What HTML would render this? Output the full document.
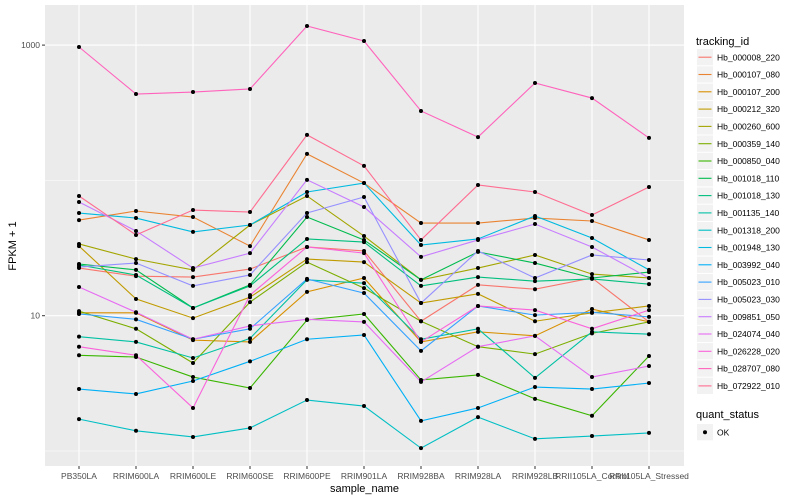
<!DOCTYPE html>
<html><head><meta charset="utf-8"><style>
body{margin:0;background:#fff;}
svg{display:block;font-family:"Liberation Sans",sans-serif;}
</style></head><body>
<svg id="chart" width="800" height="500" viewBox="0 0 800 500">
<rect x="45" y="5" width="639" height="461" fill="#ebebeb"/>
<g id="grid"></g><g id="series"></g><g id="axes"></g><g id="legend"></g>
</svg>
<script>
const categories=["PB350LA","RRIM600LA","RRIM600LE","RRIM600SE","RRIM600PE","RRIM901LA","RRIM928BA","RRIM928LA","RRIM928LB","RRII105LA_Control","RRII105LA_Stressed"];
const seriesNames=["Hb_000008_220","Hb_000107_080","Hb_000107_200","Hb_000212_320","Hb_000260_600","Hb_000359_140","Hb_000850_040","Hb_001018_110","Hb_001018_130","Hb_001135_140","Hb_001318_200","Hb_001948_130","Hb_003992_040","Hb_005023_010","Hb_005023_030","Hb_009851_050","Hb_024074_040","Hb_026228_020","Hb_028707_080","Hb_072922_010"];
const s000008_220=[22.5,19.6,19.3,22.1,32.2,30.1,9.1,16.9,15.7,19.0,9.0];
const s000107_080=[50.9,59.4,53.6,32.7,157,95.6,48.4,48.4,52.7,50.1,36.3];
const s000107_200=[10.5,10.5,6.6,6.4,15.0,19.0,6.4,7.6,7.1,11.2,9.0];
const s000212_320=[32.7,13.3,9.6,13.7,26.2,24.9,12.4,14.5,9.1,10.5,11.8];
const s000260_600=[33.9,26.2,21.8,46.8,76.7,38.8,18.4,22.5,28.1,20.3,19.0];
const s000359_140=[10.8,8.0,4.47,12.6,24.9,16.0,9.1,5.9,5.2,7.4,9.0];
const s000850_040=[5.1,4.95,3.52,2.92,9.3,10.3,3.35,3.65,2.43,1.82,5.04];
const s001018_110=[24.1,21.8,11.4,16.9,53.6,36.3,18.4,29.6,24.5,19.0,21.0];
const s001018_130=[23.7,20.0,11.4,16.6,36.9,35.0,16.6,19.3,18.0,18.7,17.1];
const s001135_140=[7.0,6.4,4.87,6.8,18.4,17.4,6.7,8.0,3.47,7.6,7.3];
const s001318_200=[1.72,1.41,1.27,1.48,2.38,2.15,1.05,1.78,1.23,1.29,1.36];
const s001948_130=[57.4,52.7,41.6,46.8,82.1,95.6,33.3,36.9,54.6,37.5,21.8];
const s003992_040=[2.87,2.64,3.29,4.6,6.7,7.2,1.67,2.08,2.97,2.87,3.18];
const s005023_010=[10.3,9.4,6.7,8.0,18.7,14.7,5.5,11.8,10.1,10.6,9.8];
const s005023_030=[22.9,24.5,16.6,20.0,57.4,75.4,12.4,30.1,19.0,28.1,25.8];
const s009851_050=[69.2,42.3,22.5,29.0,101,63.6,27.2,36.3,47.6,32.2,19.0];
const s024074_040=[16.3,10.6,6.7,8.4,9.4,9.0,3.24,5.9,7.1,3.52,4.25];
const s026228_020=[5.9,5.1,2.08,14.2,32.2,29.0,6.4,11.8,11.0,8.0,11.0];
const s028707_080=[968,435,450,474,1384,1072,326,209,525,406,206];
const s072922_010=[76.7,39.5,60.4,58.4,217,128,36.3,92.5,82.1,55.5,89.3];
const seriesValues=[s000008_220,s000107_080,s000107_200,s000212_320,s000260_600,s000359_140,s000850_040,s001018_110,s001018_130,s001135_140,s001318_200,s001948_130,s003992_040,s005023_010,s005023_030,s009851_050,s024074_040,s026228_020,s028707_080,s072922_010];
const yTickValues=[10,1000];
const yTickLabels=["10","1000"];
const yMinorValues=[1,100];
const colors=["#F8766D","#EA8331","#D89000","#C09B00","#A3A500","#7CAE00","#39B600","#00BB4E","#00BF7D","#00C1A3","#00BFC4","#00BAE0","#00B0F6","#35A2FF","#9590FF","#C77CFF","#E76BF3","#FA62DB","#FF62BC","#FF6C91"];

const NS="http://www.w3.org/2000/svg";
function mk(tag,attrs,parent){const e=document.createElementNS(NS,tag);for(const k in attrs)e.setAttribute(k,attrs[k]);parent.appendChild(e);return e;}
const X0=79,XSTEP=57;
function xScale(i){return X0+i*XSTEP;}
function yScale(v){return 315.7-(Math.log10(v)-1)*135.3;}
const grid=document.getElementById('grid'),ser=document.getElementById('series'),axes=document.getElementById('axes'),leg=document.getElementById('legend');

yMinorValues.forEach(v=>{const l=mk('line',{x1:45,x2:684,y1:yScale(v),y2:yScale(v),stroke:'#fff','stroke-width':0.5},grid);

});
yTickValues.forEach((v,i)=>{const y=yScale(v);
const l=mk('line',{x1:45,x2:684,y1:y,y2:y,stroke:'#fff','stroke-width':1.1},grid);


const t=mk('line',{x1:42,x2:45,y1:y,y2:y,stroke:'#333','stroke-width':1},axes);


const tx=mk('text',{x:40,y:y+3,'text-anchor':'end','font-size':8.5,fill:'#4d4d4d'},axes);tx.textContent=yTickLabels[i];

});
categories.forEach((c,i)=>{const x=xScale(i);
const l=mk('line',{x1:x,x2:x,y1:5,y2:466,stroke:'#fff','stroke-width':1.1},grid);


const t=mk('line',{x1:x,x2:x,y1:466,y2:469,stroke:'#333','stroke-width':1},axes);


const tx=mk('text',{x:x,y:479,'text-anchor':'middle','font-size':8.5,fill:'#4d4d4d'},axes);tx.textContent=c;

});

seriesValues.forEach((vals,si)=>{
const g=mk('g',{},ser);


const p=mk('polyline',{points:vals.map((v,i)=>xScale(i)+','+yScale(v)).join(' '),fill:'none',stroke:colors[si],'stroke-width':1.1},g);


});
seriesValues.forEach((vals,si)=>{vals.forEach((v,i)=>{
const c=mk('circle',{cx:xScale(i),cy:yScale(v),r:2,fill:'#000'},ser);

});});

const xt=mk('text',{x:364.5,y:492,'text-anchor':'middle','font-size':11,fill:'#000'},axes);xt.textContent='sample_name';


const yt=mk('text',{x:0,y:0,'text-anchor':'middle','font-size':11,fill:'#000',transform:'translate(16,246) rotate(-90)'},axes);yt.textContent='FPKM + 1';



const lt=mk('text',{x:696,y:45,'font-size':11,fill:'#000'},leg);lt.textContent='tracking_id';


seriesNames.forEach((n,i)=>{const y=49+i*17.3;
const g=mk('g',{},leg);


mk('rect',{x:697,y:y,width:16,height:16.3,fill:'#f2f2f2'},g);
mk('line',{x1:698.5,x2:711.5,y1:y+8.2,y2:y+8.2,stroke:colors[i],'stroke-width':1.1},g);
const t=mk('text',{x:717,y:y+11.3,'font-size':8.5,fill:'#000'},g);t.textContent=n;});
const qt=mk('text',{x:696,y:418,'font-size':11,fill:'#000'},leg);qt.textContent='quant_status';


const qg=mk('g',{},leg);


mk('rect',{x:697,y:424,width:16,height:16.3,fill:'#f2f2f2'},qg);
mk('circle',{cx:705,cy:432.2,r:2,fill:'#000'},qg);
const ok=mk('text',{x:717,y:435.5,'font-size':8.5,fill:'#000'},qg);ok.textContent='OK';
</script>
</body></html>
